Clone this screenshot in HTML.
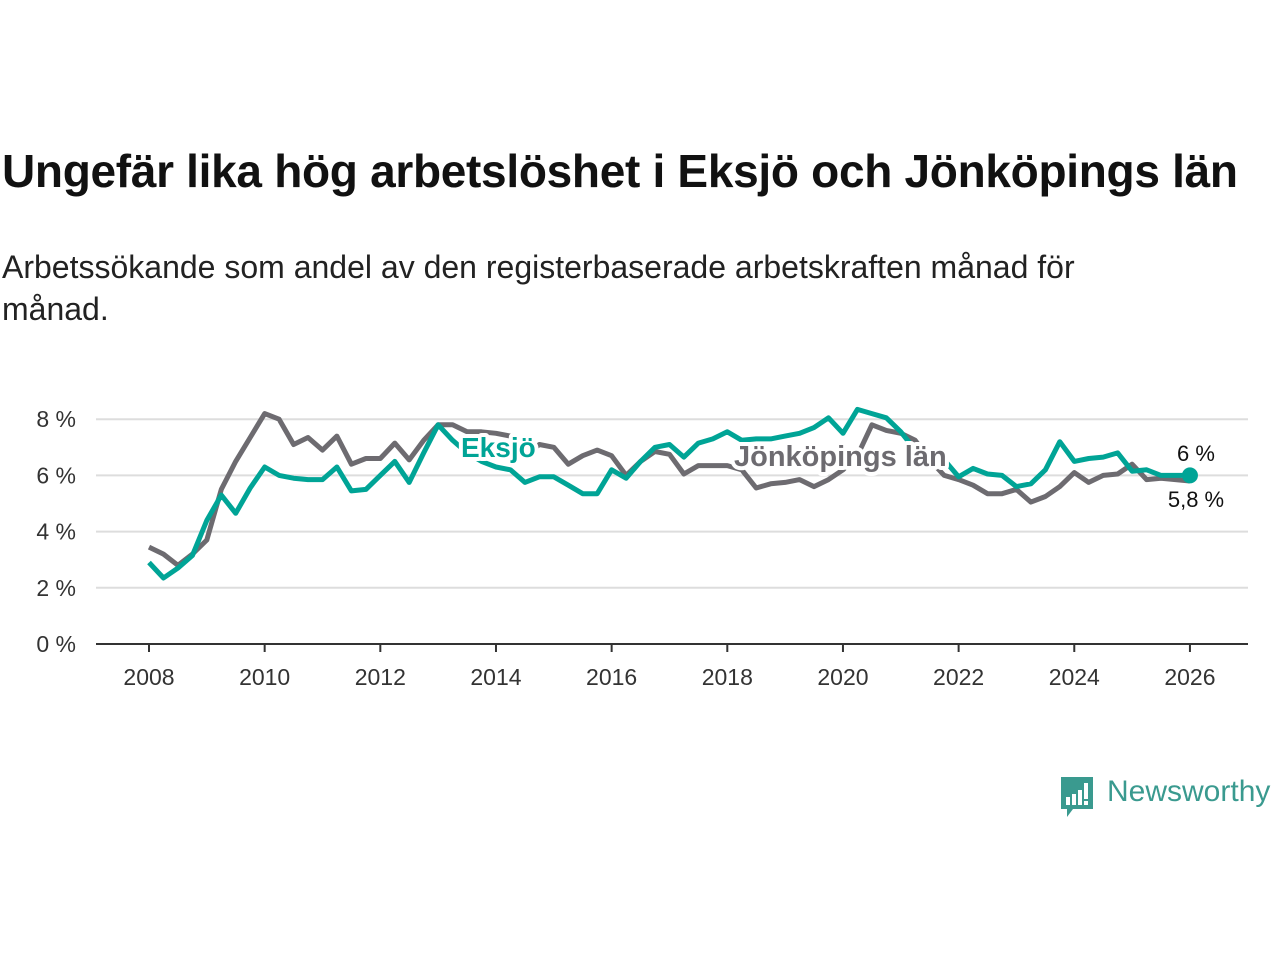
<!DOCTYPE html>
<html><head><meta charset="utf-8">
<style>
body{margin:0;background:#fff;width:1280px;height:960px;overflow:hidden;font-family:"Liberation Sans",sans-serif;}
h1{position:absolute;left:2px;top:144px;margin:0;font-size:46px;font-weight:bold;color:#111;letter-spacing:-0.3px;white-space:nowrap}
.sub{position:absolute;left:2px;top:246px;margin:0;font-size:32px;line-height:42px;color:#222;width:1170px}
svg{position:absolute;left:0;top:0}
</style></head><body>
<h1>Ungefär lika hög arbetslöshet i Eksjö och Jönköpings län</h1>
<p class="sub">Arbetssökande som andel av den registerbaserade arbetskraften månad för månad.</p>
<svg id="chart" width="1280" height="960"></svg>
<div style="position:absolute;left:1059px;top:775px;width:220px;height:44px">
<svg width="36" height="44" viewBox="0 0 36 44" style="position:absolute;left:0;top:0"><path d="M2 2h32v32H14l-6 8v-8H2z" fill="#3a9a8f"/><rect x="7" y="22" width="4" height="8" fill="#fff"/><rect x="13" y="19" width="4" height="11" fill="#fff"/><rect x="19" y="15" width="4" height="15" fill="#fff"/><rect x="25" y="8" width="4" height="16" fill="#fff"/><rect x="25" y="26" width="4" height="4" fill="#fff"/></svg>
<span style="position:absolute;left:48px;top:0;font-size:30px;color:#3a9a8f;font-weight:500">Newsworthy</span></div>
<script>
const years=[];for(let i=0;i<73;i++)years.push(2008+i*0.25);
const jonkoping=[3.45,3.2,2.8,3.2,3.7,5.5,6.5,7.35,8.2,8.0,7.1,7.35,6.9,7.4,6.4,6.6,6.6,7.15,6.55,7.25,7.8,7.8,7.55,7.55,7.5,7.4,6.7,7.1,7.0,6.4,6.7,6.9,6.7,6.0,6.5,6.85,6.75,6.05,6.35,6.35,6.35,6.2,5.55,5.7,5.75,5.85,5.6,5.85,6.2,6.7,7.8,7.6,7.5,7.25,6.55,6.0,5.85,5.65,5.35,5.35,5.5,5.05,5.25,5.6,6.1,5.75,6.0,6.05,6.4,5.85,5.9,5.85,5.8];
const eksjo=[2.9,2.35,2.7,3.15,4.4,5.3,4.65,5.55,6.3,6.0,5.9,5.85,5.85,6.3,5.45,5.5,6.0,6.5,5.75,6.8,7.8,7.25,6.8,6.5,6.3,6.2,5.75,5.95,5.95,5.65,5.35,5.35,6.2,5.9,6.5,7.0,7.1,6.65,7.15,7.3,7.55,7.25,7.3,7.3,7.4,7.5,7.7,8.05,7.5,8.35,8.2,8.05,7.55,6.9,6.6,6.55,5.95,6.25,6.05,6.0,5.6,5.7,6.2,7.2,6.5,6.6,6.65,6.8,6.15,6.2,6.0,6.0,6.0];
const yTicks=[0,2,4,6,8];
const xTicks=[2008,2010,2012,2014,2016,2018,2020,2022,2024,2026];
const NS="http://www.w3.org/2000/svg",svg=document.getElementById('chart');
const X=t=>149+(t-2008)*57.83, Y=v=>644-v*28.1;
function el(n,a,p){const e=document.createElementNS(NS,n);for(const k in a)e.setAttribute(k,a[k]);(p||svg).appendChild(e);return e;}
yTicks.forEach(v=>{
 if(v>0){const g=el('line',{x1:96,x2:1248,y1:Y(v),y2:Y(v),stroke:'#ddd','stroke-width':2});
 
 }
 const t=el('text',{x:76,y:Y(v)+8,'text-anchor':'end','font-size':23,fill:'#333'});t.textContent=v+' %';
 
 
});
const ax=el('line',{x1:96,x2:1248,y1:644,y2:644,stroke:'#333','stroke-width':2});


xTicks.forEach(y=>{
 const tk=el('line',{x1:X(y),x2:X(y),y1:644,y2:652,stroke:'#333','stroke-width':2});
 
 
 const t=el('text',{x:X(y),y:685,'text-anchor':'middle','font-size':23,fill:'#333'});t.textContent=y;
 
 
});
function line(vals,col,name){
 let d='';vals.forEach((v,i)=>{d+=(i?'L':'M')+X(years[i]).toFixed(1)+' '+Y(v).toFixed(1);});
 const p=el('path',{d:d,fill:'none',stroke:col,'stroke-width':5,'stroke-linejoin':'round'});
 
 
}
line(jonkoping,'#6d6b70','jonkoping-line');
line(eksjo,'#00a496','eksjo-line');
function label(txt,x,y,col,name,fs){
 const t=el('text',{x:x,y:y,'font-size':fs,'font-weight':'bold',fill:col,stroke:'#fff','stroke-width':8,'paint-order':'stroke','stroke-linejoin':'round'});t.textContent=txt;
 
 
}
label('Eksjö',461,457,'#00a496','eksjo-label',28);
label('Jönköpings län',734,466,'#6d6b70','jonkoping-label',29);
const li=eksjo.length-1;
const dot=el('circle',{cx:X(years[li]),cy:Y(eksjo[li]),r:8,fill:'#00a496'});


const v1=el('text',{x:1196,y:461,'text-anchor':'middle','font-size':22,fill:'#111',stroke:'#fff','stroke-width':5,'paint-order':'stroke'});v1.textContent='6 %';


const v2=el('text',{x:1196,y:507,'text-anchor':'middle','font-size':22,fill:'#111',stroke:'#fff','stroke-width':5,'paint-order':'stroke'});v2.textContent='5,8 %';


</script>
</body></html>
